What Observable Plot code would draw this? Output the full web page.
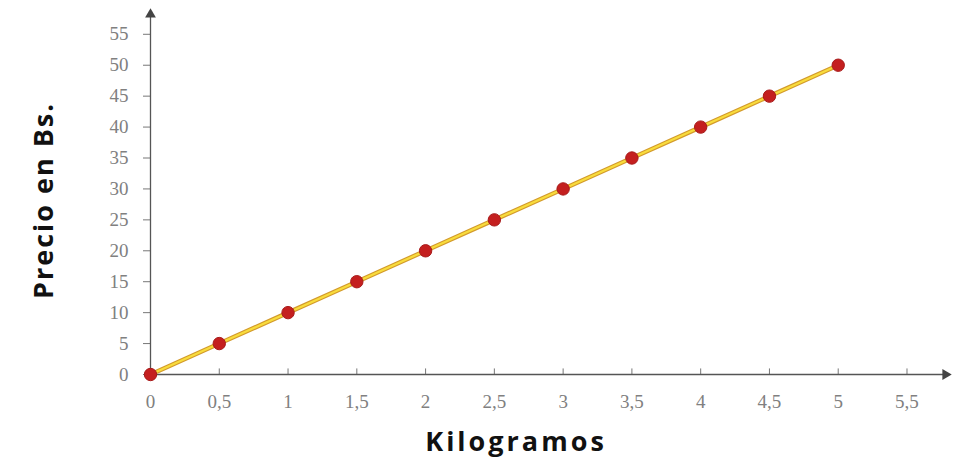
<!DOCTYPE html>
<html>
<head>
<meta charset="utf-8">
<script src="https://cdn.jsdelivr.net/npm/d3@7"></script>
<script src="https://cdn.jsdelivr.net/npm/@observablehq/plot@0.6"></script>
<style>
  html, body { margin: 0; padding: 0; background: #fff; }
  svg { display: block; }
</style>
</head>
<body>
<div id="chart"></div>
<script>
const kilogramos = [0, 0.5, 1, 1.5, 2, 2.5, 3, 3.5, 4, 4.5, 5];
const precios = [0, 5, 10, 15, 20, 25, 30, 35, 40, 45, 50];
const xTicks = [0, 0.5, 1, 1.5, 2, 2.5, 3, 3.5, 4, 4.5, 5, 5.5];
const yTicks = [0, 5, 10, 15, 20, 25, 30, 35, 40, 45, 50, 55];
const xTitle = "Kilogramos";
const yTitle = "Precio en Bs.";

const data = kilogramos.map((k, i) => ({k, p: precios[i]}));
const xMax = 5.78, yMax = 58.2;
const fmt = d => String(d).replace(".", ",");

const chart = Plot.plot({
  width: 957,
  height: 464,
  marginLeft: 150,
  marginRight: 12,
  marginTop: 14,
  marginBottom: 90,
  x: {domain: [0, xMax]},
  y: {domain: [0, yMax]},
  style: {background: "#fff"},
  marks: [
    Plot.axisY({ticks: yTicks, tickSize: 7, tickPadding: 15, tickFormat: fmt,
      fontFamily: "Liberation Serif", fontSize: 19, fill: "#808080", stroke: "#777", label: null}),
    Plot.axisX({ticks: xTicks, tickSize: 0, tickPadding: 20, tickFormat: fmt,
      fontFamily: "Liberation Serif", fontSize: 19, fill: "#808080", label: null}),
    Plot.ruleX(xTicks, {y1: 0, y2: 0.9, stroke: "#777", strokeWidth: 1}),
    Plot.ruleY([0], {x1: 0, x2: xMax, stroke: "#555", strokeWidth: 1.3}),
    Plot.ruleX([0], {y1: 0, y2: yMax, stroke: "#555", strokeWidth: 1.3}),
    Plot.dot([[xMax, 0]], {x: d => d[0], y: d => d[1], symbol: "triangle", rotate: 90, r: 4, fill: "#444", stroke: null}),
    Plot.dot([[0, yMax]], {x: d => d[0], y: d => d[1], symbol: "triangle", r: 4, fill: "#444", stroke: null}),
    Plot.line(data, {x: "k", y: "p", stroke: "#d39a2c", strokeWidth: 4.5}),
    Plot.line(data, {x: "k", y: "p", stroke: "#f8dc3c", strokeWidth: 2.2}),
    Plot.dot(data, {x: "k", y: "p", r: 6.2, fill: "#c41f1f", stroke: "#a81b1b", strokeWidth: 1}),
    Plot.text([yTitle], {frameAnchor: "left", textAnchor: "middle", lineAnchor: "middle",
      dx: -106, dy: 6, rotate: -90, text: d => d,
      fontFamily: "Open Sans", fontWeight: "bold", fontSize: 27, fill: "#111"}),
    Plot.text([xTitle], {frameAnchor: "bottom", dx: -32, dy: 76, text: d => d,
      fontFamily: "Open Sans", fontWeight: "bold", fontSize: 27, fill: "#111"})
  ]
});
chart.querySelectorAll("text").forEach(t => {
  if (t.textContent === xTitle) t.setAttribute("letter-spacing", "3");
  if (t.textContent === yTitle) t.setAttribute("letter-spacing", "2");
});
document.getElementById("chart").appendChild(chart);
</script>
</body>
</html>
